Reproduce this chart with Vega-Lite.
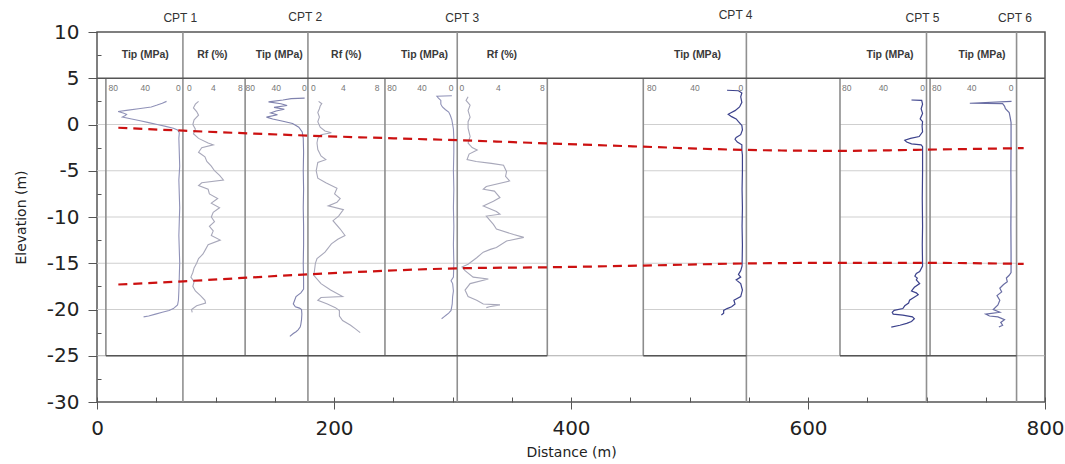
{
  "$schema": "https://vega.github.io/schema/vega-lite/v6.json",
  "width": 948,
  "height": 370,
  "autosize": {"type": "none"},
  "padding": {"left": 97, "top": 32, "right": 20, "bottom": 62},
  "background": "white",
  "config": {
    "view": {"stroke": "#555", "strokeWidth": 1.5},
    "font": "Liberation Sans",
    "axis": {"grid": false, "domain": false, "tickColor": "#555", "labelColor": "#222", "titleColor": "#222", "labelFont": "DejaVu Sans", "titleFont": "DejaVu Sans", "titleFontWeight": "normal", "labelFlush": false}
  },
  "datasets": {
    "hlines": [
      {"x1": 0, "x2": 380, "y": 0, "kind": "grid"}, {"x1": 461, "x2": 548, "y": 0, "kind": "grid"}, {"x1": 627, "x2": 776, "y": 0, "kind": "grid"},
      {"x1": 0, "x2": 380, "y": -5, "kind": "grid"}, {"x1": 461, "x2": 548, "y": -5, "kind": "grid"}, {"x1": 627, "x2": 776, "y": -5, "kind": "grid"},
      {"x1": 0, "x2": 380, "y": -10, "kind": "grid"}, {"x1": 461, "x2": 548, "y": -10, "kind": "grid"}, {"x1": 627, "x2": 776, "y": -10, "kind": "grid"},
      {"x1": 0, "x2": 380, "y": -15, "kind": "grid"}, {"x1": 461, "x2": 548, "y": -15, "kind": "grid"}, {"x1": 627, "x2": 776, "y": -15, "kind": "grid"},
      {"x1": 0, "x2": 380, "y": -20, "kind": "grid"}, {"x1": 461, "x2": 548, "y": -20, "kind": "grid"}, {"x1": 627, "x2": 776, "y": -20, "kind": "grid"},
      {"x1": 0, "x2": 800, "y": -25, "kind": "gap"},
      {"x1": 0, "x2": 800, "y": 5, "kind": "dark"},
      {"x1": 7.5, "x2": 380, "y": -25, "kind": "dark"}, {"x1": 461, "x2": 548, "y": -25, "kind": "dark"}, {"x1": 627, "x2": 776, "y": -25, "kind": "dark"}
    ],
    "vlines": [
      {"x": 72.5, "y1": -30, "y2": 10, "kind": "cpt"}, {"x": 178, "y1": -30, "y2": 10, "kind": "cpt"}, {"x": 304, "y1": -30, "y2": 10, "kind": "cpt"},
      {"x": 548, "y1": -30, "y2": 10, "kind": "cpt"}, {"x": 700, "y1": -30, "y2": 10, "kind": "cpt"}, {"x": 776, "y1": -30, "y2": 10, "kind": "cpt"},
      {"x": 7.5, "y1": -25, "y2": 5, "kind": "panel"}, {"x": 125, "y1": -25, "y2": 5, "kind": "panel"}, {"x": 243, "y1": -25, "y2": 5, "kind": "panel"},
      {"x": 380, "y1": -25, "y2": 5, "kind": "panel"}, {"x": 461, "y1": -25, "y2": 5, "kind": "panel"}, {"x": 627, "y1": -25, "y2": 5, "kind": "panel"},
      {"x": 703, "y1": -25, "y2": 5, "kind": "panel"}
    ],
    "bounds": [
      {"b": "upper", "dist": 18, "elev": -0.35}, {"b": "upper", "dist": 73, "elev": -0.67}, {"b": "upper", "dist": 178, "elev": -1.2},
      {"b": "upper", "dist": 304, "elev": -1.7}, {"b": "upper", "dist": 461, "elev": -2.4}, {"b": "upper", "dist": 548, "elev": -2.75},
      {"b": "upper", "dist": 626, "elev": -2.85}, {"b": "upper", "dist": 700, "elev": -2.72}, {"b": "upper", "dist": 782, "elev": -2.55},
      {"b": "lower", "dist": 18, "elev": -17.3}, {"b": "lower", "dist": 73, "elev": -16.95}, {"b": "lower", "dist": 178, "elev": -16.2},
      {"b": "lower", "dist": 304, "elev": -15.55}, {"b": "lower", "dist": 383, "elev": -15.43}, {"b": "lower", "dist": 461, "elev": -15.25},
      {"b": "lower", "dist": 560, "elev": -15.0}, {"b": "lower", "dist": 626, "elev": -14.96}, {"b": "lower", "dist": 700, "elev": -14.96},
      {"b": "lower", "dist": 782, "elev": -15.07}
    ],
    "labels": [
      {"x": 70.3, "y": 11.56, "text": "CPT 1", "kind": "cpt"}, {"x": 175.7, "y": 11.6, "text": "CPT 2", "kind": "cpt"}, {"x": 308.2, "y": 11.5, "text": "CPT 3", "kind": "cpt"},
      {"x": 538.9, "y": 11.8, "text": "CPT 4", "kind": "cpt"}, {"x": 696.6, "y": 11.56, "text": "CPT 5", "kind": "cpt"}, {"x": 774.6, "y": 11.56, "text": "CPT 6", "kind": "cpt"},
      {"x": 40.7, "y": 7.5, "text": "Tip (MPa)", "kind": "head"}, {"x": 97.3, "y": 7.5, "text": "Rf (%)", "kind": "head"},
      {"x": 153.8, "y": 7.5, "text": "Tip (MPa)", "kind": "head"}, {"x": 210.3, "y": 7.5, "text": "Rf (%)", "kind": "head"},
      {"x": 276.4, "y": 7.5, "text": "Tip (MPa)", "kind": "head"}, {"x": 341.7, "y": 7.5, "text": "Rf (%)", "kind": "head"},
      {"x": 506.7, "y": 7.5, "text": "Tip (MPa)", "kind": "head"}, {"x": 669.2, "y": 7.5, "text": "Tip (MPa)", "kind": "head"},
      {"x": 746.8, "y": 7.5, "text": "Tip (MPa)", "kind": "head"},
      {"x": 13.8, "y": 3.95, "text": "80", "kind": "scale"}, {"x": 40.7, "y": 3.95, "text": "40", "kind": "scale"}, {"x": 68.6, "y": 3.95, "text": "0", "kind": "scale"},
      {"x": 77.9, "y": 3.95, "text": "0", "kind": "scale"}, {"x": 98.1, "y": 3.95, "text": "4", "kind": "scale"}, {"x": 120.9, "y": 3.95, "text": "8", "kind": "scale"},
      {"x": 129.3, "y": 3.95, "text": "80", "kind": "scale"}, {"x": 151.3, "y": 3.95, "text": "40", "kind": "scale"}, {"x": 174.9, "y": 3.95, "text": "0", "kind": "scale"},
      {"x": 182.5, "y": 3.95, "text": "0", "kind": "scale"}, {"x": 207.8, "y": 3.95, "text": "4", "kind": "scale"}, {"x": 236.4, "y": 3.95, "text": "8", "kind": "scale"},
      {"x": 248.9, "y": 3.95, "text": "80", "kind": "scale"}, {"x": 274.2, "y": 3.95, "text": "40", "kind": "scale"}, {"x": 298.9, "y": 3.95, "text": "0", "kind": "scale"},
      {"x": 307.9, "y": 3.95, "text": "0", "kind": "scale"}, {"x": 338.8, "y": 3.95, "text": "4", "kind": "scale"}, {"x": 375.9, "y": 3.95, "text": "8", "kind": "scale"},
      {"x": 468.2, "y": 3.95, "text": "80", "kind": "scale"}, {"x": 504.7, "y": 3.95, "text": "40", "kind": "scale"}, {"x": 543.3, "y": 3.95, "text": "0", "kind": "scale"},
      {"x": 632.7, "y": 3.95, "text": "80", "kind": "scale"}, {"x": 663.6, "y": 3.95, "text": "40", "kind": "scale"}, {"x": 696.8, "y": 3.95, "text": "0", "kind": "scale"},
      {"x": 708.6, "y": 3.95, "text": "80", "kind": "scale"}, {"x": 738.1, "y": 3.95, "text": "40", "kind": "scale"}, {"x": 771.3, "y": 3.95, "text": "0", "kind": "scale"}
    ],
    "cpt1_tip": [
      {"elev": 2.5, "qc": 17}, {"elev": 2.3, "qc": 22}, {"elev": 2.1, "qc": 28}, {"elev": 1.9, "qc": 35}, {"elev": 1.7, "qc": 50}, {"elev": 1.55, "qc": 62},
      {"elev": 1.4, "qc": 74}, {"elev": 1.25, "qc": 68}, {"elev": 1.1, "qc": 64}, {"elev": 0.95, "qc": 66}, {"elev": 0.8, "qc": 69}, {"elev": 0.6, "qc": 58},
      {"elev": 0.4, "qc": 48}, {"elev": 0.2, "qc": 38}, {"elev": 0.0, "qc": 28}, {"elev": -0.2, "qc": 18}, {"elev": -0.4, "qc": 9}, {"elev": -0.6, "qc": 4},
      {"elev": -0.9, "qc": 2}, {"elev": -1.5, "qc": 2.5}, {"elev": -3, "qc": 2}, {"elev": -4.5, "qc": 1.5}, {"elev": -6, "qc": 2.5}, {"elev": -7.5, "qc": 2},
      {"elev": -9, "qc": 1.5}, {"elev": -10.5, "qc": 2}, {"elev": -12, "qc": 2.5}, {"elev": -13.5, "qc": 2}, {"elev": -15, "qc": 1.5}, {"elev": -16.5, "qc": 2},
      {"elev": -18, "qc": 2.5}, {"elev": -19, "qc": 3}, {"elev": -19.5, "qc": 4}, {"elev": -19.9, "qc": 9}, {"elev": -20.1, "qc": 14}, {"elev": -20.3, "qc": 22},
      {"elev": -20.5, "qc": 30}, {"elev": -20.7, "qc": 38}, {"elev": -20.8, "qc": 44}
    ],
    "cpt1_rf": [
      {"elev": 2.5, "rf": 1.5}, {"elev": 2.2, "rf": 1.0}, {"elev": 1.8, "rf": 0.7}, {"elev": 1.4, "rf": 1.2}, {"elev": 1.0, "rf": 1.5}, {"elev": 0.5, "rf": 0.8},
      {"elev": 0, "rf": 0.6}, {"elev": -0.5, "rf": 1.0}, {"elev": -1.0, "rf": 0.7}, {"elev": -1.5, "rf": 1.5}, {"elev": -2.0, "rf": 3.0}, {"elev": -2.2, "rf": 3.8},
      {"elev": -2.5, "rf": 2.0}, {"elev": -3.0, "rf": 1.5}, {"elev": -3.5, "rf": 2.5}, {"elev": -4.0, "rf": 2.8}, {"elev": -4.5, "rf": 3.5}, {"elev": -5.0, "rf": 4.0},
      {"elev": -5.5, "rf": 4.8}, {"elev": -6.0, "rf": 5.4}, {"elev": -6.3, "rf": 2.0}, {"elev": -6.6, "rf": 1.5}, {"elev": -7.0, "rf": 3.0}, {"elev": -7.5, "rf": 3.2},
      {"elev": -8.0, "rf": 4.5}, {"elev": -8.5, "rf": 3.5}, {"elev": -9.0, "rf": 4.8}, {"elev": -9.5, "rf": 3.8}, {"elev": -10.0, "rf": 3.5}, {"elev": -10.5, "rf": 4.0},
      {"elev": -11.0, "rf": 3.2}, {"elev": -11.5, "rf": 3.8}, {"elev": -12.0, "rf": 3.5}, {"elev": -12.5, "rf": 4.9}, {"elev": -13.0, "rf": 3.0}, {"elev": -13.5, "rf": 2.6},
      {"elev": -14.0, "rf": 2.2}, {"elev": -14.5, "rf": 1.5}, {"elev": -15.0, "rf": 1.2}, {"elev": -15.5, "rf": 0.8}, {"elev": -16.0, "rf": 0.6}, {"elev": -16.5, "rf": 0.3},
      {"elev": -17.0, "rf": 0.8}, {"elev": -17.5, "rf": 0.6}, {"elev": -18.0, "rf": 1.0}, {"elev": -18.5, "rf": 1.8}, {"elev": -19.0, "rf": 2.5}, {"elev": -19.3, "rf": 2.6},
      {"elev": -19.6, "rf": 1.2}, {"elev": -20.0, "rf": 0.4}, {"elev": -20.3, "rf": 0.5}
    ],
    "cpt2_tip": [
      {"elev": 2.85, "qc": 0.5}, {"elev": 2.8, "qc": 20}, {"elev": 2.65, "qc": 32}, {"elev": 2.45, "qc": 53}, {"elev": 2.25, "qc": 35}, {"elev": 2.05, "qc": 26},
      {"elev": 1.85, "qc": 45}, {"elev": 1.65, "qc": 30}, {"elev": 1.45, "qc": 42}, {"elev": 1.25, "qc": 50}, {"elev": 1.05, "qc": 40}, {"elev": 0.8, "qc": 56},
      {"elev": 0.6, "qc": 47}, {"elev": 0.35, "qc": 32}, {"elev": 0.1, "qc": 18}, {"elev": -0.3, "qc": 9}, {"elev": -0.8, "qc": 4}, {"elev": -1.5, "qc": 2.5},
      {"elev": -3, "qc": 2}, {"elev": -5, "qc": 2.5}, {"elev": -7, "qc": 2}, {"elev": -9, "qc": 2.5}, {"elev": -11, "qc": 2}, {"elev": -13, "qc": 2},
      {"elev": -15, "qc": 2.5}, {"elev": -17, "qc": 2}, {"elev": -17.8, "qc": 2}, {"elev": -18.2, "qc": 6}, {"elev": -18.6, "qc": 13}, {"elev": -19.0, "qc": 15},
      {"elev": -19.4, "qc": 17}, {"elev": -19.7, "qc": 14}, {"elev": -19.85, "qc": 8}, {"elev": -20.0, "qc": 5}, {"elev": -20.5, "qc": 4.5}, {"elev": -21.1, "qc": 5},
      {"elev": -21.6, "qc": 6}, {"elev": -21.9, "qc": 7}, {"elev": -22.2, "qc": 10}, {"elev": -22.4, "qc": 13}, {"elev": -22.6, "qc": 17}, {"elev": -22.9, "qc": 22}
    ],
    "cpt2_rf": [
      {"elev": 2.5, "rf": 0.7}, {"elev": 2.25, "rf": 1.1}, {"elev": 2.0, "rf": 0.9}, {"elev": 1.7, "rf": 0.8}, {"elev": 1.3, "rf": 0.6}, {"elev": 0.8, "rf": 0.8},
      {"elev": 0.3, "rf": 0.6}, {"elev": -0.3, "rf": 0.9}, {"elev": -0.7, "rf": 1.5}, {"elev": -0.9, "rf": 2.3}, {"elev": -1.1, "rf": 1.0}, {"elev": -1.5, "rf": 0.6},
      {"elev": -2.0, "rf": 0.5}, {"elev": -2.7, "rf": 0.6}, {"elev": -3.4, "rf": 1.0}, {"elev": -3.8, "rf": 1.6}, {"elev": -4.1, "rf": 0.6}, {"elev": -5.0, "rf": 0.4},
      {"elev": -5.8, "rf": 0.6}, {"elev": -6.3, "rf": 1.6}, {"elev": -6.9, "rf": 3.0}, {"elev": -7.5, "rf": 2.7}, {"elev": -8.0, "rf": 3.4}, {"elev": -8.4, "rf": 3.0},
      {"elev": -8.8, "rf": 1.9}, {"elev": -9.2, "rf": 3.8}, {"elev": -9.9, "rf": 3.2}, {"elev": -10.4, "rf": 2.5}, {"elev": -11.3, "rf": 3.4}, {"elev": -12.0, "rf": 4.0},
      {"elev": -12.4, "rf": 3.1}, {"elev": -12.9, "rf": 2.3}, {"elev": -13.8, "rf": 1.5}, {"elev": -14.5, "rf": 0.5}, {"elev": -15.0, "rf": 0.3}, {"elev": -15.7, "rf": 0.2},
      {"elev": -16.3, "rf": 0.1}, {"elev": -17.2, "rf": 1.0}, {"elev": -17.9, "rf": 2.2}, {"elev": -18.6, "rf": 3.7}, {"elev": -18.7, "rf": 1.0}, {"elev": -19.0, "rf": 0.6},
      {"elev": -19.4, "rf": 1.8}, {"elev": -19.8, "rf": 2.8}, {"elev": -20.1, "rf": 3.3}, {"elev": -20.7, "rf": 3.3}, {"elev": -21.2, "rf": 3.7}, {"elev": -21.7, "rf": 4.7},
      {"elev": -22.1, "rf": 5.3}, {"elev": -22.5, "rf": 5.9}
    ],
    "cpt3_tip": [
      {"elev": 3.1, "qc": 4}, {"elev": 3.05, "qc": 23}, {"elev": 2.85, "qc": 21}, {"elev": 2.6, "qc": 18}, {"elev": 2.2, "qc": 18}, {"elev": 1.9, "qc": 16},
      {"elev": 1.6, "qc": 12}, {"elev": 1.35, "qc": 8}, {"elev": 1.0, "qc": 6}, {"elev": 0.5, "qc": 4}, {"elev": 0, "qc": 3}, {"elev": -0.5, "qc": 2},
      {"elev": -1.5, "qc": 1.5}, {"elev": -3, "qc": 1.5}, {"elev": -5, "qc": 2}, {"elev": -7, "qc": 1.5}, {"elev": -9, "qc": 2}, {"elev": -11, "qc": 1.5},
      {"elev": -13, "qc": 2}, {"elev": -15, "qc": 1.5}, {"elev": -16.5, "qc": 2}, {"elev": -16.9, "qc": 5}, {"elev": -17.2, "qc": 3}, {"elev": -18.0, "qc": 2},
      {"elev": -18.6, "qc": 3}, {"elev": -19.4, "qc": 3.5}, {"elev": -20.1, "qc": 5}, {"elev": -20.4, "qc": 8}, {"elev": -20.6, "qc": 11}, {"elev": -20.8, "qc": 14},
      {"elev": -21.0, "qc": 17}
    ],
    "cpt3_rf": [
      {"elev": 3.0, "rf": 0.7}, {"elev": 2.6, "rf": 0.5}, {"elev": 2.1, "rf": 0.9}, {"elev": 1.5, "rf": 0.7}, {"elev": 0.8, "rf": 0.9}, {"elev": 0.3, "rf": 0.7},
      {"elev": -0.4, "rf": 0.7}, {"elev": -1.3, "rf": 0.9}, {"elev": -2.0, "rf": 0.7}, {"elev": -2.5, "rf": 1.1}, {"elev": -2.75, "rf": 1.6}, {"elev": -3.2, "rf": 0.8},
      {"elev": -3.8, "rf": 0.6}, {"elev": -4.0, "rf": 1.5}, {"elev": -4.2, "rf": 3.0}, {"elev": -4.4, "rf": 4.2}, {"elev": -5.1, "rf": 4.5}, {"elev": -5.6, "rf": 4.4},
      {"elev": -6.1, "rf": 4.8}, {"elev": -6.7, "rf": 2.5}, {"elev": -7.0, "rf": 2.2}, {"elev": -7.2, "rf": 3.3}, {"elev": -7.9, "rf": 3.85}, {"elev": -8.3, "rf": 3.2},
      {"elev": -8.8, "rf": 2.2}, {"elev": -9.4, "rf": 3.5}, {"elev": -9.7, "rf": 3.85}, {"elev": -9.9, "rf": 2.5}, {"elev": -10.8, "rf": 3.2}, {"elev": -11.3, "rf": 3.5},
      {"elev": -11.9, "rf": 5.2}, {"elev": -12.2, "rf": 6.2}, {"elev": -12.6, "rf": 4.5}, {"elev": -13.3, "rf": 3.5}, {"elev": -13.5, "rf": 2.9}, {"elev": -13.8, "rf": 2.2},
      {"elev": -14.4, "rf": 1.55}, {"elev": -15.1, "rf": 0.7}, {"elev": -15.4, "rf": 0.1}, {"elev": -15.8, "rf": 0.4}, {"elev": -16.5, "rf": 1.2}, {"elev": -16.7, "rf": 2.7},
      {"elev": -17.2, "rf": 0.9}, {"elev": -17.9, "rf": 0.4}, {"elev": -18.6, "rf": 0.7}, {"elev": -19.0, "rf": 1.55}, {"elev": -19.4, "rf": 2.2}, {"elev": -19.5, "rf": 3.85},
      {"elev": -19.7, "rf": 2.8}, {"elev": -19.8, "rf": 2.5}
    ],
    "cpt4_tip": [
      {"elev": 3.7, "qc": 14}, {"elev": 3.65, "qc": 4}, {"elev": 3.4, "qc": 1}, {"elev": 3.0, "qc": 2}, {"elev": 2.4, "qc": 1}, {"elev": 1.9, "qc": 3},
      {"elev": 1.5, "qc": 7}, {"elev": 1.25, "qc": 11}, {"elev": 1.1, "qc": 13}, {"elev": 0.85, "qc": 10}, {"elev": 0.6, "qc": 6}, {"elev": 0.3, "qc": 4},
      {"elev": -0.1, "qc": 1}, {"elev": -0.6, "qc": 0.5}, {"elev": -1.1, "qc": 2}, {"elev": -1.4, "qc": 6}, {"elev": -1.6, "qc": 7}, {"elev": -1.9, "qc": 5},
      {"elev": -2.2, "qc": 1}, {"elev": -2.8, "qc": 1}, {"elev": -3.3, "qc": 0.5}, {"elev": -5, "qc": 0.5}, {"elev": -7, "qc": 0.8}, {"elev": -9, "qc": 0.5},
      {"elev": -11, "qc": 0.8}, {"elev": -13, "qc": 0.5}, {"elev": -15.3, "qc": 0.8}, {"elev": -15.8, "qc": 2}, {"elev": -16.2, "qc": 4}, {"elev": -16.5, "qc": 2},
      {"elev": -16.8, "qc": 6}, {"elev": -17.2, "qc": 2}, {"elev": -17.9, "qc": 0.5}, {"elev": -18.6, "qc": 2}, {"elev": -19.0, "qc": 8}, {"elev": -19.4, "qc": 7},
      {"elev": -19.7, "qc": 10}, {"elev": -19.9, "qc": 14}, {"elev": -20.1, "qc": 17}, {"elev": -20.4, "qc": 17}, {"elev": -20.6, "qc": 19}
    ],
    "cpt5_tip": [
      {"elev": 2.65, "qc": 13}, {"elev": 2.6, "qc": 2.4}, {"elev": 2.2, "qc": 1.5}, {"elev": 1.7, "qc": 3}, {"elev": 1.2, "qc": 1.5}, {"elev": 0.6, "qc": 4},
      {"elev": 0.3, "qc": 1.5}, {"elev": -0.2, "qc": 2}, {"elev": -0.8, "qc": 1.5}, {"elev": -1.3, "qc": 5}, {"elev": -1.5, "qc": 14}, {"elev": -1.7, "qc": 20},
      {"elev": -1.9, "qc": 18}, {"elev": -2.1, "qc": 13}, {"elev": -2.2, "qc": 3}, {"elev": -2.4, "qc": 1.5}, {"elev": -5, "qc": 1.5}, {"elev": -8, "qc": 1.8},
      {"elev": -11, "qc": 1.5}, {"elev": -13, "qc": 1.8}, {"elev": -15.3, "qc": 1.5}, {"elev": -15.5, "qc": 2.5}, {"elev": -15.9, "qc": 4.5}, {"elev": -16.1, "qc": 8},
      {"elev": -16.4, "qc": 9.5}, {"elev": -16.6, "qc": 7}, {"elev": -16.8, "qc": 8}, {"elev": -17.2, "qc": 4.5}, {"elev": -17.6, "qc": 10}, {"elev": -18.0, "qc": 13},
      {"elev": -18.2, "qc": 8}, {"elev": -18.4, "qc": 6}, {"elev": -19.0, "qc": 15}, {"elev": -19.3, "qc": 16}, {"elev": -19.6, "qc": 20}, {"elev": -19.9, "qc": 22},
      {"elev": -20.1, "qc": 31}, {"elev": -20.3, "qc": 33}, {"elev": -20.5, "qc": 32}, {"elev": -20.6, "qc": 22}, {"elev": -20.8, "qc": 12}, {"elev": -21.0, "qc": 10},
      {"elev": -21.3, "qc": 13}, {"elev": -21.5, "qc": 18}, {"elev": -21.7, "qc": 25}, {"elev": -21.9, "qc": 34}
    ],
    "cpt6_tip": [
      {"elev": 2.5, "qc": 0.5}, {"elev": 2.3, "qc": 45}, {"elev": 2.25, "qc": 10}, {"elev": 2.0, "qc": 8}, {"elev": 1.7, "qc": 7}, {"elev": 1.3, "qc": 3},
      {"elev": 0.8, "qc": 2}, {"elev": 0.2, "qc": 1}, {"elev": -2, "qc": 1}, {"elev": -5, "qc": 1.2}, {"elev": -8, "qc": 1}, {"elev": -11, "qc": 1.2},
      {"elev": -14, "qc": 1}, {"elev": -16, "qc": 1}, {"elev": -16.3, "qc": 3}, {"elev": -16.6, "qc": 6}, {"elev": -17, "qc": 5}, {"elev": -17.3, "qc": 9},
      {"elev": -17.7, "qc": 13}, {"elev": -18.1, "qc": 11}, {"elev": -18.5, "qc": 16}, {"elev": -19.0, "qc": 13}, {"elev": -19.5, "qc": 15}, {"elev": -20.0, "qc": 20},
      {"elev": -20.3, "qc": 13}, {"elev": -20.5, "qc": 28}, {"elev": -20.7, "qc": 24}, {"elev": -20.8, "qc": 15}, {"elev": -21.1, "qc": 8}, {"elev": -21.4, "qc": 12},
      {"elev": -21.7, "qc": 10}, {"elev": -21.9, "qc": 14}
    ]
  },
  "resolve": {"scale": {"x": "independent"}, "axis": {"y": "independent"}},
  "layer": [
    {
      "data": {"name": "hlines"},
      "transform": [{"filter": "datum.kind == 'grid'"}],
      "mark": {"type": "rule", "color": "#cfcfcf", "strokeWidth": 1},
      "encoding": {
        "x": {"field": "x1", "type": "quantitative", "scale": {"domain": [0, 800], "nice": false, "zero": false},
              "axis": {"values": [0, 200, 400, 600, 800], "orient": "bottom", "title": "Distance (m)", "labelFontSize": 20, "tickSize": 7, "labelPadding": 9, "titleFontSize": 14, "titlePadding": 7}},
        "x2": {"field": "x2"},
        "y": {"field": "y", "type": "quantitative", "scale": {"domain": [-30, 10], "nice": false, "zero": false},
              "axis": {"values": [-30, -25, -20, -15, -10, -5, 0, 5, 10], "orient": "left", "title": "Elevation (m)", "labelFontSize": 20, "tickSize": 9, "labelPadding": 9, "labelExpr": "datum.value + ''", "titleFontSize": 14, "titlePadding": 18}}
      }
    },
    {
      "data": {"name": "hlines"},
      "transform": [{"filter": "datum.kind == 'gap'"}],
      "mark": {"type": "rule", "color": "#aaaaaa", "strokeWidth": 1},
      "encoding": {
        "x": {"field": "x1", "type": "quantitative", "scale": {"domain": [0, 800], "nice": false, "zero": false},
              "axis": {"values": [0, 50, 100, 150, 200, 250, 300, 350, 400, 450, 500, 550, 600, 650, 700, 750, 800], "orient": "bottom", "labels": false, "tickSize": -5, "title": null}},
        "x2": {"field": "x2"},
        "y": {"field": "y", "type": "quantitative", "scale": {"domain": [-30, 10], "nice": false, "zero": false},
              "axis": {"values": [7.5, 2.5, -2.5, -7.5, -12.5, -17.5, -22.5, -27.5], "orient": "left", "labels": false, "tickSize": -4, "title": null}}
      }
    },
    {
      "data": {"name": "cpt1_tip"},
      "mark": {"type": "line", "color": "#9092b8", "strokeWidth": 1.1},
      "encoding": {
        "x": {"field": "qc", "type": "quantitative", "scale": {"domain": [-1016.5, 98.8], "reverse": true, "nice": false, "zero": false}, "axis": null},
        "y": {"field": "elev", "type": "quantitative", "scale": {"domain": [-30, 10], "nice": false, "zero": false}, "axis": null},
        "order": {"field": "elev", "sort": "descending"}
      }
    },
    {
      "data": {"name": "cpt1_rf"},
      "mark": {"type": "line", "color": "#a8a8ba", "strokeWidth": 1.1},
      "encoding": {
        "x": {"field": "rf", "type": "quantitative", "scale": {"domain": [-14.43, 134.27], "nice": false, "zero": false}, "axis": null},
        "y": {"field": "elev", "type": "quantitative", "scale": {"domain": [-30, 10], "nice": false, "zero": false}, "axis": null},
        "order": {"field": "elev", "sort": "descending"}
      }
    },
    {
      "data": {"name": "cpt2_tip"},
      "mark": {"type": "line", "color": "#8083ae", "strokeWidth": 1.1},
      "encoding": {
        "x": {"field": "qc", "type": "quantitative", "scale": {"domain": [-1076.4, 302.5], "reverse": true, "nice": false, "zero": false}, "axis": null},
        "y": {"field": "elev", "type": "quantitative", "scale": {"domain": [-30, 10], "nice": false, "zero": false}, "axis": null},
        "order": {"field": "elev", "sort": "descending"}
      }
    },
    {
      "data": {"name": "cpt2_rf"},
      "mark": {"type": "line", "color": "#a8a8ba", "strokeWidth": 1.1},
      "encoding": {
        "x": {"field": "rf", "type": "quantitative", "scale": {"domain": [-27, 91.5], "nice": false, "zero": false}, "axis": null},
        "y": {"field": "elev", "type": "quantitative", "scale": {"domain": [-30, 10], "nice": false, "zero": false}, "axis": null},
        "order": {"field": "elev", "sort": "descending"}
      }
    },
    {
      "data": {"name": "cpt3_tip"},
      "mark": {"type": "line", "color": "#9092b8", "strokeWidth": 1.1},
      "encoding": {
        "x": {"field": "qc", "type": "quantitative", "scale": {"domain": [-749.2, 454.6], "reverse": true, "nice": false, "zero": false}, "axis": null},
        "y": {"field": "elev", "type": "quantitative", "scale": {"domain": [-30, 10], "nice": false, "zero": false}, "axis": null},
        "order": {"field": "elev", "sort": "descending"}
      }
    },
    {
      "data": {"name": "cpt3_rf"},
      "mark": {"type": "line", "color": "#a8a8ba", "strokeWidth": 1.1},
      "encoding": {
        "x": {"field": "rf", "type": "quantitative", "scale": {"domain": [-35.95, 57.68], "nice": false, "zero": false}, "axis": null},
        "y": {"field": "elev", "type": "quantitative", "scale": {"domain": [-30, 10], "nice": false, "zero": false}, "axis": null},
        "order": {"field": "elev", "sort": "descending"}
      }
    },
    {
      "data": {"name": "cpt4_tip"},
      "mark": {"type": "line", "color": "#3c428c", "strokeWidth": 1.2},
      "encoding": {
        "x": {"field": "qc", "type": "quantitative", "scale": {"domain": [-265.5, 567.9], "reverse": true, "nice": false, "zero": false}, "axis": null},
        "y": {"field": "elev", "type": "quantitative", "scale": {"domain": [-30, 10], "nice": false, "zero": false}, "axis": null},
        "order": {"field": "elev", "sort": "descending"}
      }
    },
    {
      "data": {"name": "cpt5_tip"},
      "mark": {"type": "line", "color": "#3c428c", "strokeWidth": 1.2},
      "encoding": {
        "x": {"field": "qc", "type": "quantitative", "scale": {"domain": [-125.7, 859.2], "reverse": true, "nice": false, "zero": false}, "axis": null},
        "y": {"field": "elev", "type": "quantitative", "scale": {"domain": [-30, 10], "nice": false, "zero": false}, "axis": null},
        "order": {"field": "elev", "sort": "descending"}
      }
    },
    {
      "data": {"name": "cpt6_tip"},
      "mark": {"type": "line", "color": "#6a6ea4", "strokeWidth": 1.2},
      "encoding": {
        "x": {"field": "qc", "type": "quantitative", "scale": {"domain": [-35.2, 976], "reverse": true, "nice": false, "zero": false}, "axis": null},
        "y": {"field": "elev", "type": "quantitative", "scale": {"domain": [-30, 10], "nice": false, "zero": false}, "axis": null},
        "order": {"field": "elev", "sort": "descending"}
      }
    },
    {
      "data": {"name": "vlines"},
      "transform": [{"filter": "datum.kind == 'panel'"}],
      "mark": {"type": "rule", "color": "#8c8c8c", "strokeWidth": 1.6},
      "encoding": {
        "x": {"field": "x", "type": "quantitative", "scale": {"domain": [0, 800], "nice": false, "zero": false}, "axis": null},
        "y": {"field": "y1", "type": "quantitative", "scale": {"domain": [-30, 10], "nice": false, "zero": false}, "axis": null},
        "y2": {"field": "y2"}
      }
    },
    {
      "data": {"name": "vlines"},
      "transform": [{"filter": "datum.kind == 'cpt'"}],
      "mark": {"type": "rule", "color": "#909090", "strokeWidth": 1.6},
      "encoding": {
        "x": {"field": "x", "type": "quantitative", "scale": {"domain": [0, 800], "nice": false, "zero": false}, "axis": null},
        "y": {"field": "y1", "type": "quantitative", "scale": {"domain": [-30, 10], "nice": false, "zero": false}, "axis": null},
        "y2": {"field": "y2"}
      }
    },
    {
      "data": {"name": "hlines"},
      "transform": [{"filter": "datum.kind == 'dark'"}],
      "mark": {"type": "rule", "color": "#555555", "strokeWidth": 1.6},
      "encoding": {
        "x": {"field": "x1", "type": "quantitative", "scale": {"domain": [0, 800], "nice": false, "zero": false}, "axis": null},
        "x2": {"field": "x2"},
        "y": {"field": "y", "type": "quantitative", "scale": {"domain": [-30, 10], "nice": false, "zero": false}, "axis": null}
      }
    },
    {
      "data": {"name": "bounds"},
      "mark": {"type": "line", "color": "#cc1111", "strokeWidth": 2.2, "strokeDash": [9, 6], "interpolate": "monotone"},
      "encoding": {
        "x": {"field": "dist", "type": "quantitative", "scale": {"domain": [0, 800], "nice": false, "zero": false}, "axis": null},
        "y": {"field": "elev", "type": "quantitative", "scale": {"domain": [-30, 10], "nice": false, "zero": false}, "axis": null},
        "detail": {"field": "b", "type": "nominal"}
      }
    },
    {
      "data": {"name": "labels"},
      "transform": [{"filter": "datum.kind == 'cpt'"}],
      "mark": {"type": "text", "font": "Liberation Sans", "fontSize": 12, "color": "#333", "align": "center", "baseline": "middle"},
      "encoding": {
        "x": {"field": "x", "type": "quantitative", "scale": {"domain": [0, 800], "nice": false, "zero": false}, "axis": null},
        "y": {"field": "y", "type": "quantitative", "scale": {"domain": [-30, 10], "nice": false, "zero": false}, "axis": null},
        "text": {"field": "text"}
      }
    },
    {
      "data": {"name": "labels"},
      "transform": [{"filter": "datum.kind == 'head'"}],
      "mark": {"type": "text", "font": "Liberation Sans", "fontSize": 10.5, "fontWeight": "bold", "color": "#3a3a3a", "align": "center", "baseline": "middle"},
      "encoding": {
        "x": {"field": "x", "type": "quantitative", "scale": {"domain": [0, 800], "nice": false, "zero": false}, "axis": null},
        "y": {"field": "y", "type": "quantitative", "scale": {"domain": [-30, 10], "nice": false, "zero": false}, "axis": null},
        "text": {"field": "text"}
      }
    },
    {
      "data": {"name": "labels"},
      "transform": [{"filter": "datum.kind == 'scale'"}],
      "mark": {"type": "text", "font": "Liberation Sans", "fontSize": 8.5, "color": "#777", "align": "center", "baseline": "middle"},
      "encoding": {
        "x": {"field": "x", "type": "quantitative", "scale": {"domain": [0, 800], "nice": false, "zero": false}, "axis": null},
        "y": {"field": "y", "type": "quantitative", "scale": {"domain": [-30, 10], "nice": false, "zero": false}, "axis": null},
        "text": {"field": "text"}
      }
    }
  ]
}
